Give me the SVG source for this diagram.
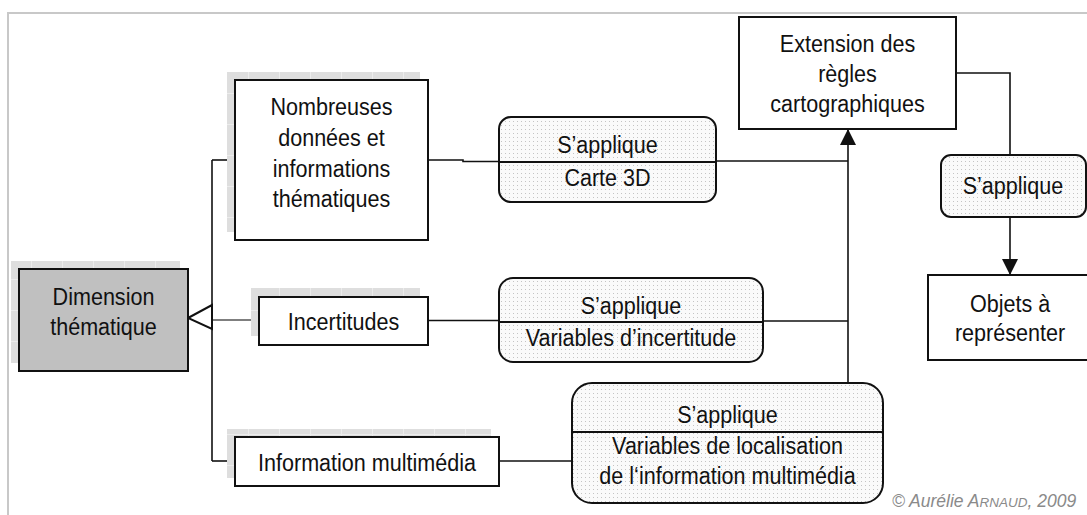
<svg xmlns="http://www.w3.org/2000/svg" width="1087" height="515" viewBox="0 0 1087 515">
<style>
.t{font-family:"Liberation Sans",Arial,sans-serif;font-size:24.5px;fill:#111;text-anchor:middle}
.box{fill:#fff;stroke:#111;stroke-width:2}
.dim{fill:#c0c0c0;stroke:#111;stroke-width:2}
.sh{fill:url(#shp);stroke:none}
.rr{fill:url(#dots);stroke:#111;stroke-width:2}
.div{stroke:#111;stroke-width:2}
.c{fill:none;stroke:#111;stroke-width:1.6}
.cg{fill:none;stroke:#555;stroke-width:1.4}
.frame{fill:none;stroke:#c8c8c8;stroke-width:2}
.copy{font-family:"Liberation Sans",Arial,sans-serif;font-style:italic;font-size:17.5px;fill:#8a8a8a}
</style>
<defs>
<pattern id="dots" width="4" height="4" patternUnits="userSpaceOnUse">
<rect width="4" height="4" fill="#fafafa"/>
<rect x="1" y="1" width="1" height="1" fill="#c4c4c4"/>
</pattern>
<pattern id="shp" width="31" height="31" patternUnits="userSpaceOnUse">
<rect width="31" height="31" fill="#dedede"/>
<rect width="1" height="31" fill="#ececec"/>
<rect width="31" height="1" fill="#ececec"/>
</pattern>
<marker id="arr" viewBox="0 0 16 16" refX="16" refY="8" markerWidth="16" markerHeight="16" markerUnits="userSpaceOnUse" orient="auto">
<path d="M0,0 L16,8 L0,16 Z" fill="#111"/>
</marker>
</defs>

<path class="frame" d="M8,515 V13 H1087"/>

<g id="connectors">
<path class="c" d="M212,160 V461"/>
<path class="c" d="M212,160 H235"/>
<path class="cg" d="M212,320 H259"/>
<path class="c" d="M212,461 H235"/>
<path class="c" d="M428,160 H463 V161.5 H499"/>
<path class="c" d="M716,161 H848"/>
<path class="c" d="M428,320.5 H499"/>
<path class="c" d="M763,321 H848"/>
<path class="c" d="M499,461 H572"/>
<path class="c" d="M848,383 V129" marker-end="url(#arr)"/>
<path class="c" d="M956,73 H1010 V155"/>
<path class="c" d="M1010,217 V275" marker-end="url(#arr)"/>
<polygon points="188,318 212,305 212,329" fill="#fff" stroke="#111" stroke-width="2"/>
</g>

<g id="dimension">
<rect class="sh" x="11" y="261" width="169" height="102"/>
<rect class="dim" x="19" y="269" width="169" height="102"/>
<text class="t" transform="matrix(0.88 0 0 1 103.5 0)"><tspan x="0" y="305">Dimension</tspan><tspan x="0" y="335">thématique</tspan></text>
</g>

<g id="nombreuses">
<rect class="sh" x="227" y="72" width="193" height="160"/>
<rect class="box" x="235" y="80" width="193" height="160"/>
<text class="t" transform="matrix(0.88 0 0 1 331.5 0)"><tspan x="0" y="115">Nombreuses</tspan><tspan x="0" y="146">données et</tspan><tspan x="0" y="177">informations</tspan><tspan x="0" y="207">thématiques</tspan></text>
</g>

<g id="incertitudes">
<rect class="sh" x="251" y="288" width="169" height="48"/>
<rect class="box" x="259" y="297" width="169" height="48"/>
<text class="t" transform="matrix(0.88 0 0 1 343.5 0)" y="330">Incertitudes</text>
</g>

<g id="multimedia">
<rect class="sh" x="227" y="429" width="264" height="49"/>
<rect class="box" x="235" y="437" width="264" height="49"/>
<text class="t" transform="matrix(0.88 0 0 1 367 0)" y="471">Information multimédia</text>
</g>

<g id="applique-carte3d">
<rect class="rr" x="499" y="117" width="217" height="85" rx="12"/>
<line class="div" x1="499" y1="162" x2="716" y2="162"/>
<text class="t" transform="matrix(0.88 0 0 1 607.5 0)"><tspan x="0" y="153">S’applique</tspan><tspan x="0" y="186">Carte 3D</tspan></text>
</g>

<g id="applique-incertitude">
<rect class="rr" x="499" y="278" width="264" height="84" rx="14"/>
<line class="div" x1="499" y1="322" x2="763" y2="322"/>
<text class="t" transform="matrix(0.88 0 0 1 631 0)"><tspan x="0" y="314">S’applique</tspan><tspan x="0" y="346">Variables d’incertitude</tspan></text>
</g>

<g id="applique-localisation">
<rect class="rr" x="572" y="383" width="311" height="120" rx="20"/>
<line class="div" x1="572" y1="432" x2="883" y2="432"/>
<text class="t" transform="matrix(0.88 0 0 1 727.5 0)"><tspan x="0" y="423">S’applique</tspan><tspan x="0" y="454">Variables de localisation</tspan><tspan x="0" y="484">de l‘information multimédia</tspan></text>
</g>

<g id="extension">
<rect class="box" x="739" y="17" width="217" height="112"/>
<text class="t" transform="matrix(0.88 0 0 1 847.5 0)"><tspan x="0" y="52">Extension des</tspan><tspan x="0" y="82">règles</tspan><tspan x="0" y="112">cartographiques</tspan></text>
</g>

<g id="applique-objets">
<rect class="rr" x="941" y="155" width="145" height="62" rx="10"/>
<text class="t" transform="matrix(0.88 0 0 1 1013 0)" y="194">S’applique</text>
</g>

<g id="objets">
<rect class="box" x="928" y="275" width="170" height="85"/>
<text class="t" transform="matrix(0.88 0 0 1 1010 0)"><tspan x="0" y="312">Objets à</tspan><tspan x="0" y="341">représenter</tspan></text>
</g>

<text class="copy" x="892" y="507">© Aurélie A<tspan font-size="13.5px">RNAUD</tspan>, 2009</text>
</svg>
